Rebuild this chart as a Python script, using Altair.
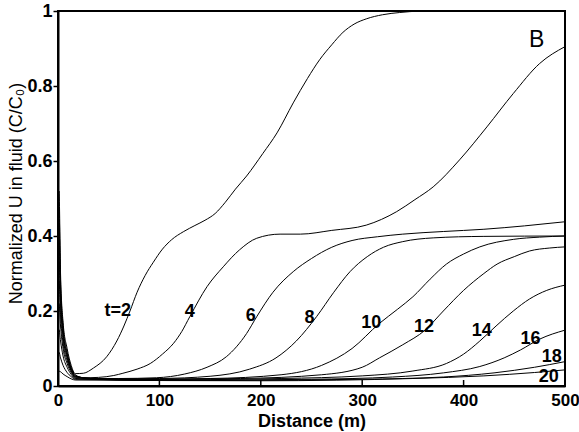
import altair as alt
import pandas as pd

# ---- curve data (distance m, C/C0) ----
t2_x = [0, 1, 2.5, 5, 9, 13, 17, 25, 35, 48, 58, 65, 71, 78, 86, 94, 103, 112, 124, 135, 145, 155, 165, 175, 186, 202, 216, 232, 246, 258, 270, 281, 292, 304, 320, 337, 357]
t2_y = [0.45, 0.52, 0.30, 0.17, 0.10, 0.055, 0.033, 0.034, 0.048, 0.078, 0.12, 0.16, 0.20, 0.25, 0.295, 0.33, 0.365, 0.39, 0.412, 0.428, 0.442, 0.46, 0.49, 0.525, 0.56, 0.62, 0.675, 0.755, 0.82, 0.87, 0.91, 0.943, 0.965, 0.979, 0.99, 0.996, 1.0]

t4_x = [0, 1, 2.5, 5, 9, 13, 17, 25, 40, 55, 64, 78, 91, 103, 114, 122, 130, 147, 163, 179, 196, 219, 239, 270, 304, 334, 352, 370, 396, 423, 449, 475, 500]
t4_y = [0.42, 0.47, 0.28, 0.16, 0.09, 0.05, 0.03, 0.022, 0.023, 0.028, 0.034, 0.045, 0.06, 0.085, 0.114, 0.145, 0.185, 0.265, 0.318, 0.363, 0.394, 0.405, 0.405, 0.415, 0.429, 0.465, 0.497, 0.531, 0.603, 0.691, 0.78, 0.86, 0.905]

t6_x = [0, 1, 2.5, 5, 9, 13, 17, 30, 60, 97, 125, 147, 166, 186, 196, 212, 232, 250, 270, 290, 315, 340, 380, 420, 460, 500]
t6_y = [0.38, 0.43, 0.26, 0.15, 0.085, 0.047, 0.028, 0.02, 0.02, 0.022, 0.032, 0.05, 0.078, 0.14, 0.185, 0.25, 0.305, 0.34, 0.37, 0.388, 0.398, 0.405, 0.412, 0.418, 0.427, 0.438]

t8_x = [0, 1, 2.5, 5, 9, 13, 17, 40, 100, 150, 189, 215, 235, 255, 272, 288, 305, 321, 340, 370, 420, 500]
t8_y = [0.33, 0.38, 0.24, 0.14, 0.08, 0.045, 0.026, 0.019, 0.02, 0.026, 0.045, 0.075, 0.12, 0.185, 0.25, 0.305, 0.345, 0.37, 0.385, 0.395, 0.399, 0.40]

t10_x = [0, 1, 2.5, 5, 9, 13, 17, 50, 150, 220, 260, 290, 317, 335, 350, 367, 383, 400, 416, 449, 475, 500]
t10_y = [0.29, 0.33, 0.22, 0.13, 0.075, 0.042, 0.025, 0.018, 0.02, 0.03, 0.055, 0.10, 0.167, 0.205, 0.238, 0.285, 0.325, 0.352, 0.371, 0.391, 0.397, 0.40]

t12_x = [0, 1, 2.5, 5, 9, 13, 17, 60, 180, 260, 300, 317, 340, 362, 380, 400, 420, 433, 450, 465, 485, 500]
t12_y = [0.24, 0.28, 0.19, 0.115, 0.068, 0.04, 0.024, 0.017, 0.02, 0.03, 0.05, 0.075, 0.11, 0.149, 0.20, 0.255, 0.30, 0.325, 0.345, 0.36, 0.368, 0.371]

t14_x = [0, 1, 2.5, 5, 9, 13, 17, 80, 220, 300, 350, 383, 400, 416, 432, 449, 465, 482, 500]
t14_y = [0.19, 0.22, 0.16, 0.10, 0.06, 0.036, 0.022, 0.016, 0.02, 0.027, 0.04, 0.06, 0.085, 0.12, 0.16, 0.20, 0.232, 0.255, 0.269]

t16_x = [0, 1, 2.5, 5, 9, 13, 17, 100, 250, 330, 380, 416, 440, 456, 475, 500]
t16_y = [0.13, 0.15, 0.12, 0.08, 0.05, 0.031, 0.02, 0.015, 0.018, 0.024, 0.035, 0.052, 0.075, 0.096, 0.125, 0.149]

t18_x = [0, 1, 2.5, 5, 9, 13, 17, 150, 300, 380, 430, 470, 500]
t18_y = [0.08, 0.09, 0.075, 0.055, 0.036, 0.025, 0.018, 0.015, 0.018, 0.024, 0.035, 0.05, 0.065]

t20_x = [0, 2.5, 5, 9, 13, 17, 200, 350, 420, 470, 500]
t20_y = [0.04, 0.038, 0.032, 0.025, 0.019, 0.016, 0.014, 0.02, 0.027, 0.036, 0.043]

curves = {
    "2": (t2_x, t2_y), "4": (t4_x, t4_y), "6": (t6_x, t6_y), "8": (t8_x, t8_y),
    "10": (t10_x, t10_y), "12": (t12_x, t12_y), "14": (t14_x, t14_y),
    "16": (t16_x, t16_y), "18": (t18_x, t18_y), "20": (t20_x, t20_y),
}

# ---- curve labels ----
label_text = ["t=2", "4", "6", "8", "10", "12", "14", "16", "18", "20"]
label_x = [59, 130, 190, 248, 309, 361, 418, 466, 487, 484]
label_y = [0.20, 0.197, 0.187, 0.181, 0.168, 0.157, 0.147, 0.125, 0.077, 0.024]

x_ticks = [0, 100, 200, 300, 400, 500]
y_ticks = [0, 0.2, 0.4, 0.6, 0.8, 1.0]

rows = []
for t, (xs, ys) in curves.items():
    for i, (a, b) in enumerate(zip(xs, ys)):
        rows.append({"t": t, "x": a, "y": b, "i": i})
df = pd.DataFrame(rows)
lab_df = pd.DataFrame({"text": label_text, "x": label_x, "y": label_y})
tick_df = pd.DataFrame({"v": x_ticks})

FONT = "Liberation Sans"
xs_ = alt.Scale(domain=[0, 500], nice=False, zero=False)
ys_ = alt.Scale(domain=[0, 1], nice=False, zero=False)

lines = alt.Chart(df).mark_line(color="black", strokeWidth=1, interpolate="monotone", clip=True).encode(
    x=alt.X("x:Q", scale=xs_, axis=alt.Axis(
        values=x_ticks, title="Distance (m)", ticks=False, grid=False,
        labelFont=FONT, labelFontSize=17, labelFontWeight="bold", labelColor="black",
        labelPadding=6, labelFlush=False, domainColor="black", domainWidth=2,
        titleFont=FONT, titleFontSize=18, titleFontWeight="bold", titleColor="black",
        titlePadding=4)),
    y=alt.Y("y:Q", scale=ys_, axis=alt.Axis(
        values=y_ticks, format="~g", title="Normalized U in fluid (C/C\u2080)", grid=False,
        tickSize=5, tickWidth=1.5, tickColor="black",
        labelFont=FONT, labelFontSize=18, labelFontWeight="bold", labelColor="black",
        labelPadding=1, labelFlush=False, domainColor="black", domainWidth=2,
        titleFont=FONT, titleFontSize=18, titleFontWeight="normal", titleColor="black",
        titleX=-42, titleY=182, titleAlign="center", titleBaseline="middle", titleAngle=-90)),
    detail="t:N",
    order="i:Q",
)

xticks = alt.Chart(tick_df).mark_rule(color="black", strokeWidth=1.5).encode(
    x=alt.X("v:Q", scale=xs_),
    y=alt.value(375), y2=alt.value(369),
)

labels = alt.Chart(lab_df).mark_text(font=FONT, fontSize=18, fontWeight="bold", color="black",
                                     align="center", baseline="middle").encode(
    x=alt.X("x:Q", scale=xs_), y=alt.Y("y:Q", scale=ys_), text="text:N")

panel = alt.Chart(pd.DataFrame({"x": [472], "y": [0.923], "s": ["B"]})).mark_text(
    font=FONT, fontSize=23, color="black", align="center", baseline="middle").encode(
    x=alt.X("x:Q", scale=xs_), y=alt.Y("y:Q", scale=ys_), text="s:N")

chart = alt.layer(lines, xticks, labels, panel).properties(
    width=507, height=375,
    padding={"left": 58, "top": 11, "right": 14, "bottom": 46},
    autosize="none", background="white",
).configure_view(stroke="black", strokeWidth=2)

chart.save("out.html", embed_options={"renderer": "svg", "actions": False})
